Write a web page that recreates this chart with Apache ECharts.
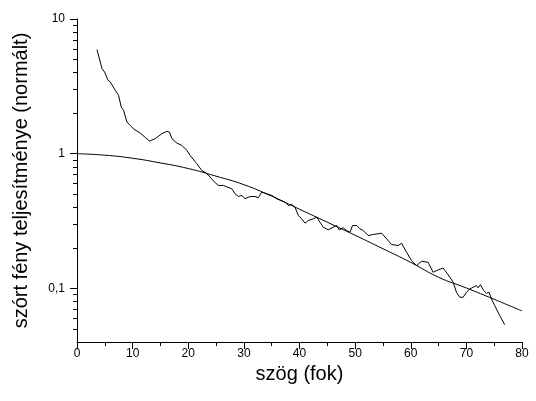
<!DOCTYPE html>
<html>
<head>
<meta charset="utf-8">
<script src="https://cdn.jsdelivr.net/npm/echarts@6/dist/echarts.min.js"></script>
<style>html,body{margin:0;padding:0;background:#fff;}#c{width:536px;height:401px;}</style>
</head>
<body>
<div id="c"></div>
<script>
// Measured (noisy) curve: angle (deg) and normalized scattered power
const measuredX = [3.59,4.49,4.96,5.57,5.98,6.88,7.47,7.95,8.37,8.98,9.57,10.16,11.36,12.26,13.03,14.06,15.26,16.16,16.62,17.06,17.95,18.85,19.75,20.34,21.54,22.44,23.21,23.93,24.52,25.42,26.32,26.93,27.83,28.42,29.01,29.62,30.22,31.11,32.01,32.60,33.21,34.11,35.01,35.91,36.80,37.40,37.99,38.60,39.19,39.78,40.39,40.99,41.58,42.48,43.09,43.68,44.27,45.17,46.07,46.68,47.15,47.86,48.47,49.07,49.55,50.27,50.86,51.45,52.35,53.25,54.76,55.66,56.55,57.74,58.35,59.25,60.14,61.04,61.94,63.12,64.02,64.92,65.82,66.53,67.62,68.22,68.82,69.41,70.02,70.61,71.20,71.81,72.10,72.53,73.12,73.61,74.08,74.51,75.10,76.00,76.89];
const measuredY = [5.93,4.285,4.04,3.51,3.41,2.955,2.714,2.222,2.099,1.718,1.623,1.529,1.423,1.322,1.241,1.293,1.408,1.465,1.447,1.293,1.199,1.153,1.058,0.971,0.843,0.751,0.718,0.670,0.628,0.581,0.581,0.567,0.549,0.504,0.481,0.490,0.463,0.481,0.481,0.471,0.518,0.504,0.490,0.463,0.446,0.437,0.4126,0.420,0.401,0.348,0.3287,0.3048,0.319,0.3287,0.3378,0.310,0.2846,0.2723,0.2846,0.293,0.2723,0.2818,0.269,0.2613,0.293,0.293,0.277,0.269,0.247,0.2512,0.2569,0.2334,0.2117,0.2081,0.2164,0.1855,0.161,0.1477,0.159,0.1563,0.1317,0.1373,0.1416,0.1295,0.1114,0.0935,0.0859,0.0859,0.0935,0.0991,0.1019,0.1049,0.1009,0.1067,0.0963,0.0920,0.0935,0.0835,0.0745,0.0628,0.0538];
// Smooth (model) curve
const modelX = [0,5,10,15,20,25,30,35,40,45,50,55,60,65,70,75,80];
const modelY = [1.0,0.975,0.925,0.854,0.776,0.681,0.589,0.484,0.387,0.31,0.248,0.197,0.156,0.121,0.1007,0.083,0.068];
// Axis ticks
const xTicks = [0,10,20,30,40,50,60,70,80];
const xMinorTicks = [5,15,25,35,45,55,65,75];
const yMajorTicks = [0.1,1,10];
const yMinorTicks = [0.05,0.06,0.07,0.08,0.09,0.2,0.3,0.4,0.5,0.6,0.7,0.8,0.9,2,3,4,5,6,7,8,9];
const xName = 'szög (fok)';
const yName = 'szórt fény teljesítménye (normált)';

const X_MIN = 0, X_MAX = 80, Y_MIN = 0.04, Y_MAX = 10;
const pair = (xs, ys) => xs.map((x, i) => [x, ys[i]]);
const font = '"Liberation Sans", Arial, sans-serif';
const tickStyle = {color: '#000', width: 1, type: 'solid'};

const chart = echarts.init(document.getElementById('c'), null, {renderer: 'canvas'});
chart.setOption({
  animation: false,
  backgroundColor: '#fff',
  grid: {left: 77, right: 14, top: 19, bottom: 59, containLabel: false},
  xAxis: [{
    type: 'value', min: X_MIN, max: X_MAX, interval: 10,
    name: xName, nameLocation: 'middle', nameGap: 17,
    nameTextStyle: {fontFamily: font, fontSize: 20, color: '#000'},
    axisLine: {show: true, onZero: false, lineStyle: {color: '#000', width: 1}},
    axisTick: {show: true, inside: false, length: 7, customValues: xTicks, lineStyle: tickStyle},
    axisLabel: {fontFamily: font, fontSize: 12, color: '#000', margin: 6, customValues: xTicks},
    splitLine: {show: false}, minorTick: {show: false}
  }, {
    type: 'value', min: X_MIN, max: X_MAX, position: 'bottom',
    axisLine: {show: false},
    axisTick: {show: true, inside: false, length: 4, customValues: xMinorTicks, lineStyle: tickStyle},
    axisLabel: {show: false},
    splitLine: {show: false}
  }],
  yAxis: [{
    type: 'log', logBase: 10, min: Y_MIN, max: Y_MAX,
    name: yName, nameLocation: 'middle', nameGap: 46,
    nameTextStyle: {fontFamily: font, fontSize: 20, color: '#000'},
    axisLine: {show: true, onZero: false, lineStyle: {color: '#000', width: 1}},
    axisTick: {show: true, inside: false, length: 7, customValues: yMajorTicks, lineStyle: tickStyle},
    axisLabel: {fontFamily: font, fontSize: 12, color: '#000', margin: 12, customValues: yMajorTicks,
      formatter: v => String(v).replace('.', ',')},
    splitLine: {show: false}, minorTick: {show: false}
  }, {
    type: 'log', logBase: 10, min: Y_MIN, max: Y_MAX, position: 'left',
    axisLine: {show: false},
    axisTick: {show: true, inside: false, length: 4, customValues: yMinorTicks, lineStyle: tickStyle},
    axisLabel: {show: false},
    splitLine: {show: false}
  }],
  series: [{
    type: 'line', data: pair(measuredX, measuredY), showSymbol: false, symbol: 'none',
    lineStyle: {color: '#000', width: 1}, smooth: false
  }, {
    type: 'line', data: pair(modelX, modelY), showSymbol: false, symbol: 'none',
    lineStyle: {color: '#000', width: 1}, smooth: true
  }]
});
</script>
</body>
</html>
